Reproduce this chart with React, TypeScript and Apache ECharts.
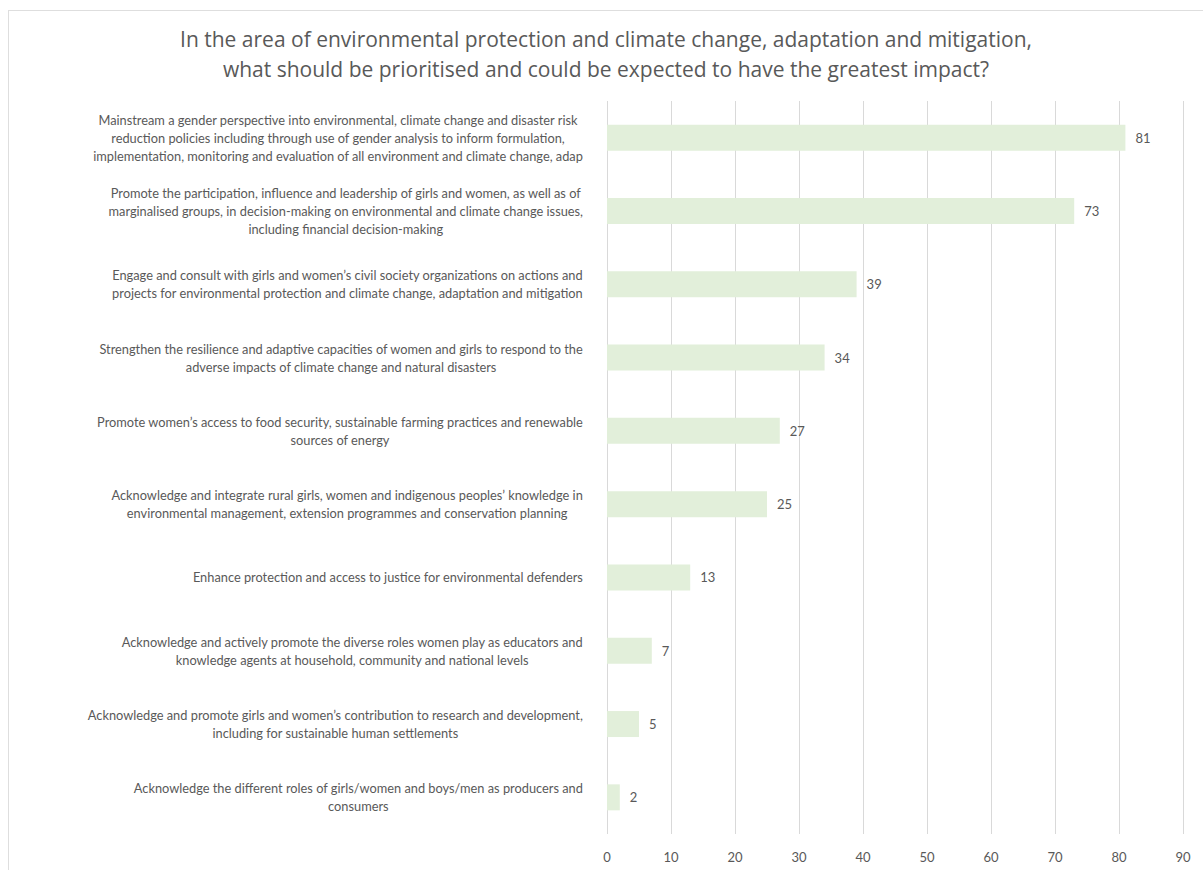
import React, { useEffect, useRef } from "react";
import * as echarts from "echarts";

const titleText =
  "In the area of environmental protection and climate change, adaptation and mitigation,\nwhat should be prioritised and could be expected to have the greatest impact?";

const categories: string[] = [
  "Mainstream a gender perspective into environmental, climate change and disaster risk\nreduction policies including through use of gender analysis to inform formulation,\nimplementation, monitoring and evaluation of all environment and climate change, adap",
  "Promote the participation, influence and leadership of girls and women, as well as of\nmarginalised groups, in decision-making on environmental and climate change issues,\nincluding financial decision-making",
  "Engage and consult with girls and women’s civil society organizations on actions and\nprojects for environmental protection and climate change, adaptation and mitigation",
  "Strengthen the resilience and adaptive capacities of women and girls to respond to the\nadverse impacts of climate change and natural disasters",
  "Promote women’s access to food security, sustainable farming practices and renewable\nsources of energy",
  "Acknowledge and integrate rural girls, women and indigenous peoples’ knowledge in\nenvironmental management, extension programmes and conservation planning",
  "Enhance protection and access to justice for environmental defenders",
  "Acknowledge and actively promote the diverse roles women play as educators and\nknowledge agents at household, community and national levels",
  "Acknowledge and promote girls and women’s contribution to research and development,\nincluding for sustainable human settlements",
  "Acknowledge the different roles of girls/women and boys/men as producers and\nconsumers",
];

const values: number[] = [81, 73, 39, 34, 27, 25, 13, 7, 5, 2];

const xMin = 0;
const xMax = 90;
const xInterval = 10;

const FONT = "Lato, 'Open Sans', sans-serif";
const TITLE_FONT = "'Open Sans', Lato, sans-serif";
const TEXT_COLOR = "#595959";

export default function App() {
  const ref = useRef<HTMLDivElement>(null);

  useEffect(() => {
    if (!ref.current) return;
    const chart = echarts.init(ref.current, undefined, { renderer: "svg" });
    chart.setOption({
      animation: false,
      backgroundColor: "#ffffff",
      textStyle: { fontFamily: FONT, color: TEXT_COLOR },
      title: {
        text: titleText,
        left: "center",
        top: 8,
        textStyle: {
          fontFamily: TITLE_FONT,
          fontSize: 21,
          fontWeight: "normal",
          color: TEXT_COLOR,
          lineHeight: 30,
        },
      },
      grid: { left: 598, top: 90, width: 576, height: 733, containLabel: false },
      xAxis: {
        type: "value",
        min: xMin,
        max: xMax,
        interval: xInterval,
        axisLine: { show: false },
        axisTick: { show: false },
        axisLabel: {
          fontFamily: FONT,
          fontSize: 13,
          color: TEXT_COLOR,
          margin: 16,
        },
        splitLine: { show: true, lineStyle: { color: "#d9d9d9", width: 1 } },
      },
      yAxis: {
        type: "category",
        data: categories,
        inverse: true,
        axisLine: { show: false },
        axisTick: { show: false },
        axisLabel: {
          margin: 24,
          interval: 0,
          formatter: (v: string) =>
            v
              .split("\n")
              .map((l) => "{c|" + l + "}")
              .join("\n"),
          rich: {
            c: {
              align: "center",
              fontFamily: FONT,
              fontSize: 12.8,
              color: TEXT_COLOR,
              lineHeight: 18,
            },
          },
        },
      },
      series: [
        {
          type: "bar",
          data: values,
          barWidth: 26,
          itemStyle: { color: "#e2efda" },
          label: {
            show: true,
            position: "right",
            distance: 10,
            fontFamily: FONT,
            fontSize: 13,
            color: TEXT_COLOR,
          },
        },
      ],
    });
    return () => chart.dispose();
  }, []);

  return (
    <div
      style={{
        position: "absolute",
        left: 8,
        top: 10,
        width: 1195,
        height: 860,
        borderTop: "1px solid #dedede",
        borderLeft: "1px solid #dedede",
        boxSizing: "border-box",
      }}
    >
      <div ref={ref} style={{ width: 1194, height: 859 }} />
    </div>
  );
}
